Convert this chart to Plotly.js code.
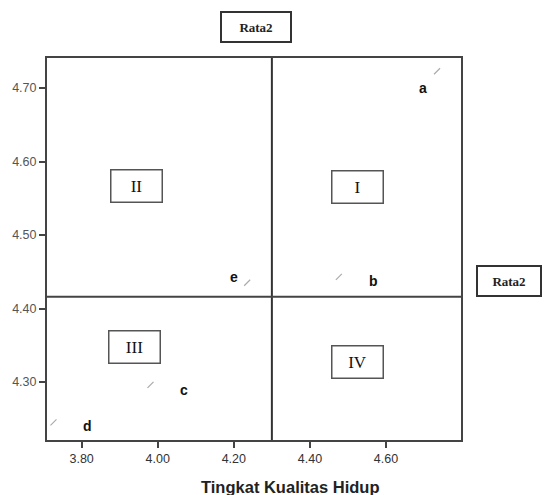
<!DOCTYPE html>
<html>
<head>
<meta charset="utf-8">
<script src="https://cdn.plot.ly/plotly-3.0.1.min.js"></script>
<style>html,body{margin:0;padding:0;background:#fff;}#chart{width:544px;height:495px;}</style>
</head>
<body>
<div id="chart"></div>
<script>
// Data
var pointNames = ["a", "b", "c", "d", "e"];
var kualitasHidup = [4.734, 4.476, 3.981, 3.726, 4.235];
var rata2Values = [4.723, 4.443, 4.296, 4.245, 4.435];
var xMean = 4.300;
var yMean = 4.416;
var quadrantNames = ["I", "II", "III", "IV"];
var quadrantX = [4.526, 3.943, 3.940, 4.526];
var quadrantY = [4.566, 4.567, 4.348, 4.327];
var xTickVals = [3.8, 4.0, 4.2, 4.4, 4.6];
var xTickText = ["3.80", "4.00", "4.20", "4.40", "4.60"];
var yTickVals = [4.3, 4.4, 4.5, 4.6, 4.7];
var yTickText = ["4.30", "4.40", "4.50", "4.60", "4.70"];

// label offsets (pixels) per point: style only
var labelShiftX = [-14, 35, 33, 34, -13];
var labelShiftY = [-17, -4, -5, -4, 6];

var trace = {
  x: kualitasHidup,
  y: rata2Values,
  mode: "markers",
  type: "scatter",
  marker: {symbol: "line-ne", size: 6, color: "#aaa", line: {color: "#aaa", width: 1.2}},
  hoverinfo: "none",
  showlegend: false
};

var annotations = [];
for (var i = 0; i < pointNames.length; i++) {
  annotations.push({
    x: kualitasHidup[i], y: rata2Values[i], xref: "x", yref: "y",
    text: "<b>" + pointNames[i] + "</b>", showarrow: false,
    xanchor: "center", yanchor: "middle",
    xshift: labelShiftX[i], yshift: labelShiftY[i],
    font: {family: "Arial, Liberation Sans, sans-serif", size: 14, color: "#111"}
  });
}
for (var j = 0; j < quadrantNames.length; j++) {
  annotations.push({
    x: quadrantX[j], y: quadrantY[j], xref: "x", yref: "y",
    text: quadrantNames[j], showarrow: false,
    xanchor: "center", yanchor: "middle",
    font: {family: "Liberation Serif, Times New Roman, serif", size: 17, color: "#111"},
    bordercolor: "#555", borderwidth: 1.5, borderpad: 5,
    width: 40, height: 21, bgcolor: "rgba(255,255,255,0)"
  });
}
annotations.push({
  x: 0.505, y: 1.081, xref: "paper", yref: "paper", text: "<b>Rata2</b>", showarrow: false,
  xanchor: "center", yanchor: "middle",
  font: {family: "Liberation Serif, Times New Roman, serif", size: 13, color: "#222"},
  bordercolor: "#333", borderwidth: 2, borderpad: 3, width: 62, height: 22
});
annotations.push({
  x: 1.116, y: 0.416, xref: "paper", yref: "paper", text: "<b>Rata2</b>", showarrow: false,
  xanchor: "center", yanchor: "middle",
  font: {family: "Liberation Serif, Times New Roman, serif", size: 13, color: "#222"},
  bordercolor: "#333", borderwidth: 2, borderpad: 3, width: 56, height: 22
});
annotations.push({
  x: 0.587, y: -0.123, xref: "paper", yref: "paper", text: "<b>Tingkat Kualitas Hidup</b>", showarrow: false,
  xanchor: "center", yanchor: "middle",
  font: {family: "Arial, Liberation Sans, sans-serif", size: 16.5, color: "#222"}
});

var layout = {
  width: 544, height: 495,
  margin: {l: 47, r: 83, t: 58, b: 55},
  paper_bgcolor: "#fff", plot_bgcolor: "#fff",
  xaxis: {
    range: [3.709, 4.797], tickvals: xTickVals, ticktext: xTickText,
    ticks: "outside", ticklen: 6, tickwidth: 2, tickcolor: "#444",
    showgrid: false, zeroline: false, showline: true, mirror: true,
    linecolor: "#444", linewidth: 2,
    tickfont: {family: "Arial, Liberation Sans, sans-serif", size: 12.5, color: "#333"}
  },
  yaxis: {
    range: [4.221, 4.741], tickvals: yTickVals, ticktext: yTickText,
    ticks: "outside", ticklen: 6, tickwidth: 2, tickcolor: "#444",
    showgrid: false, zeroline: false, showline: true, mirror: true,
    linecolor: "#444", linewidth: 2,
    tickfont: {family: "Arial, Liberation Sans, sans-serif", size: 12.5, color: "#555"}
  },
  shapes: [
    {type: "line", xref: "x", yref: "paper", x0: xMean, x1: xMean, y0: 0, y1: 1, line: {color: "#333", width: 2}},
    {type: "line", xref: "paper", yref: "y", x0: 0, x1: 1, y0: yMean, y1: yMean, line: {color: "#444", width: 2}}
  ],
  annotations: annotations
};

Plotly.newPlot("chart", [trace], layout, {displayModeBar: false, staticPlot: true});
</script>
</body>
</html>
